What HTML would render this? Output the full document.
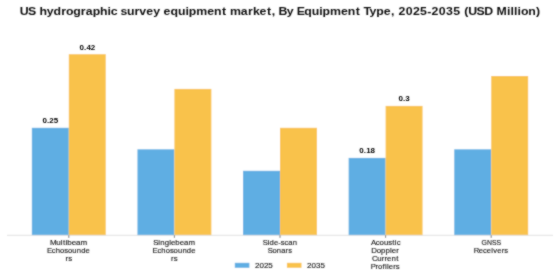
<!DOCTYPE html>
<html><head><meta charset="utf-8"><style>
html,body{margin:0;padding:0;background:#fff;width:560px;height:280px;overflow:hidden}
svg{display:block}
text{font-family:"Liberation Sans",sans-serif;white-space:pre}
</style></head><body>
<svg width="560" height="280" viewBox="0 0 560 280">
<defs><filter id="bl" filterUnits="userSpaceOnUse" x="0" y="0" width="560" height="280"><feConvolveMatrix order="3" kernelMatrix="1 2 1 2 12 2 1 2 1" divisor="24" edgeMode="duplicate"/></filter>
<filter id="tb" filterUnits="userSpaceOnUse" x="0" y="0" width="560" height="280"><feConvolveMatrix order="3" kernelMatrix="1 2 1 2 14 2 1 2 1" divisor="26" edgeMode="none"/></filter></defs>
<g filter="url(#bl)">
<rect x="0" y="0" width="560" height="280" fill="#fff"/>
<rect x="31.84" y="127.8" width="36.96" height="107.50" fill="#5FAEE3"/>
<rect x="68.80" y="54.2" width="36.96" height="181.10" fill="#F9C24C"/>
<rect x="137.44" y="149.3" width="36.96" height="86.00" fill="#5FAEE3"/>
<rect x="174.40" y="88.9" width="36.96" height="146.40" fill="#F9C24C"/>
<rect x="243.04" y="170.8" width="36.96" height="64.50" fill="#5FAEE3"/>
<rect x="280.00" y="127.8" width="36.96" height="107.50" fill="#F9C24C"/>
<rect x="348.64" y="157.9" width="36.96" height="77.40" fill="#5FAEE3"/>
<rect x="385.60" y="105.9" width="36.96" height="129.40" fill="#F9C24C"/>
<rect x="454.24" y="149.3" width="36.96" height="86.00" fill="#5FAEE3"/>
<rect x="491.20" y="76.0" width="36.96" height="159.30" fill="#F9C24C"/>
<line x1="7" y1="235.3" x2="553" y2="235.3" stroke="#dcdcdc" stroke-width="0.9"/>
<line x1="68.80" y1="235.3" x2="68.80" y2="237.9" stroke="#666" stroke-width="0.9"/>
<line x1="174.40" y1="235.3" x2="174.40" y2="237.9" stroke="#666" stroke-width="0.9"/>
<line x1="280.00" y1="235.3" x2="280.00" y2="237.9" stroke="#666" stroke-width="0.9"/>
<line x1="385.60" y1="235.3" x2="385.60" y2="237.9" stroke="#666" stroke-width="0.9"/>
<line x1="491.20" y1="235.3" x2="491.20" y2="237.9" stroke="#666" stroke-width="0.9"/>
<rect x="234.8" y="262.8" width="14.6" height="5.0" fill="#5FAEE3"/>
<rect x="286.9" y="262.8" width="14.6" height="5.0" fill="#F9C24C"/>
</g>
<g filter="url(#tb)">
<text transform="scale(1.1748,1)" x="16.85 23.89 30.64 33.56 39.86 45.59 52.08 56.12 62.30 68.79 73.06 78.89 85.18 91.58 94.24 99.84 102.54 108.01 114.48 118.65 124.51 130.37 136.23 139.29 145.15 151.44 157.83 160.74 167.03 176.35 182.19 188.89 192.82 195.73 205.04 211.07 215.29 220.97 227.24 231.30 234.51 237.07 244.17 250.04 252.54 258.99 265.28 271.68 274.59 280.87 290.20 296.04 302.74 306.67 309.46 314.57 320.31 326.74 332.86 336.07 339.21 345.34 351.47 357.60 363.66 367.38 373.51 379.64 385.77 391.83 395.09 398.64 405.68 412.22 419.74 422.74 431.55 434.57 437.59 440.61 443.40 449.56 456.17" y="15.00" font-size="10.5" font-weight="bold" fill="#111">US hydrographic survey equipment market, By Equipment Type, 2025-2035 (USD Million)</text>
<text transform="scale(1.2287,1)" x="34.66 38.32 40.18 43.74" y="122.60" font-size="6.5" font-weight="bold" fill="#000">0.25</text>
<text transform="scale(1.2287,1)" x="64.79 68.45 70.30 73.87" y="49.80" font-size="6.5" font-weight="bold" fill="#000">0.42</text>
<text transform="scale(1.2287,1)" x="292.48 296.14 297.99 301.56" y="152.90" font-size="6.5" font-weight="bold" fill="#000">0.18</text>
<text transform="scale(1.2351,1)" x="322.69 326.34 328.18" y="101.20" font-size="6.5" font-weight="bold" fill="#000">0.3</text>
<text transform="scale(1.0275,1)" x="48.61 54.79 59.20 61.27 63.76 65.57 69.83 74.01 78.34" y="245.30" font-size="7.8" fill="#222" stroke="#222" stroke-width="0.15">Multibeam</text>
<text transform="scale(0.9810,1)" x="47.94 52.81 56.81 61.26 65.52 69.34 73.79 78.31 82.83 87.29" y="253.00" font-size="7.8" fill="#222" stroke="#222" stroke-width="0.15">Echosounde</text>
<text transform="scale(1.0042,1)" x="65.25 67.85" y="261.00" font-size="7.8" fill="#222" stroke="#222" stroke-width="0.15">rs</text>
<text transform="scale(1.0045,1)" x="152.70 157.62 159.49 163.91 168.39 170.20 174.56 178.92 183.19 187.64" y="245.30" font-size="7.8" fill="#222" stroke="#222" stroke-width="0.15">Singlebeam</text>
<text transform="scale(0.9810,1)" x="155.59 160.46 164.46 168.91 173.17 176.99 181.43 185.96 190.48 194.94" y="253.00" font-size="7.8" fill="#222" stroke="#222" stroke-width="0.15">Echosounde</text>
<text transform="scale(1.0042,1)" x="170.41 173.00" y="261.00" font-size="7.8" fill="#222" stroke="#222" stroke-width="0.15">rs</text>
<text transform="scale(0.9770,1)" x="269.00 274.01 275.97 280.45 284.82 287.33 291.16 295.11 299.57" y="245.30" font-size="7.8" fill="#222" stroke="#222" stroke-width="0.15">Side-scan</text>
<text transform="scale(0.9702,1)" x="275.88 280.81 285.30 289.80 294.36 297.07" y="253.00" font-size="7.8" fill="#222" stroke="#222" stroke-width="0.15">Sonars</text>
<text transform="scale(0.9980,1)" x="371.64 376.49 380.35 384.71 388.98 393.05 395.62 397.44" y="245.30" font-size="7.8" fill="#222" stroke="#222" stroke-width="0.15">Acoustic</text>
<text transform="scale(1.0137,1)" x="366.24 371.66 375.96 380.35 384.80 386.58 391.00" y="253.00" font-size="7.8" fill="#222" stroke="#222" stroke-width="0.15">Doppler</text>
<text transform="scale(1.0108,1)" x="367.95 373.21 377.70 380.42 382.95 387.28 391.91" y="261.00" font-size="7.8" fill="#222" stroke="#222" stroke-width="0.15">Current</text>
<text transform="scale(0.9890,1)" x="374.96 379.73 382.32 386.82 389.26 391.23 393.09 397.59 400.24" y="268.90" font-size="7.8" fill="#222" stroke="#222" stroke-width="0.15">Profilers</text>
<text transform="scale(0.8843,1)" x="544.45 550.70 556.38 561.41" y="245.30" font-size="7.8" fill="#222" stroke="#222" stroke-width="0.15">GNSS</text>
<text transform="scale(0.9785,1)" x="484.17 489.18 493.57 497.52 502.01 504.04 508.14 512.68 515.36" y="253.00" font-size="7.8" fill="#222" stroke="#222" stroke-width="0.15">Receivers</text>
<text transform="scale(0.9886,1)" x="257.92 262.42 266.93 271.43" y="267.90" font-size="8.1" fill="#222" stroke="#222" stroke-width="0.15">2025</text>
<text transform="scale(0.9886,1)" x="310.62 315.12 319.63 324.13" y="267.90" font-size="8.1" fill="#222" stroke="#222" stroke-width="0.15">2035</text>
</g></svg></body></html>
